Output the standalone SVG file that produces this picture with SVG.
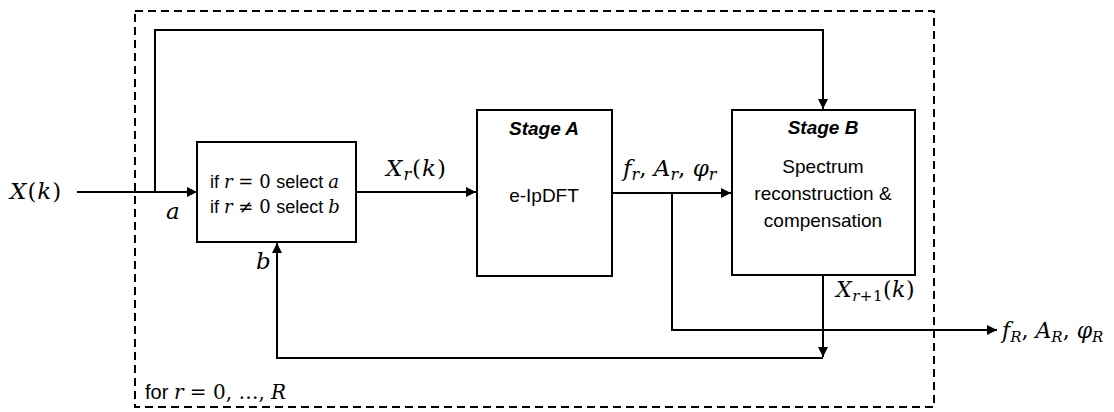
<svg xmlns="http://www.w3.org/2000/svg" width="1114" height="412" viewBox="0 0 1114 412">
<style>
.box{fill:#fff;stroke:#000;stroke-width:2}
.ln{fill:none;stroke:#000;stroke-width:2}
.dash{fill:none;stroke:#000;stroke-width:2;stroke-dasharray:8 5}
.sans{font-family:"Liberation Sans",Arial,sans-serif;fill:#000}
.m{font-family:"DejaVu Serif","Liberation Serif",serif;fill:#000}
.i{font-style:italic}
.bi{font-weight:bold;font-style:italic}
</style>
<defs>
<marker id="ah" viewBox="0 0 10 10" refX="10" refY="5" markerWidth="5" markerHeight="5" orient="auto" markerUnits="strokeWidth">
<path d="M0,0 L10,5 L0,10 z" fill="#000"/>
</marker>
</defs>
<rect class="dash" x="135" y="11" width="799" height="396"/>
<g id="connectors">
<path class="ln" d="M77,192 H197" marker-end="url(#ah)"/>
<path class="ln" d="M155,192 V30 H823 V109" marker-end="url(#ah)"/>
<path class="ln" d="M356,192 H476" marker-end="url(#ah)"/>
<path class="ln" d="M612,193 H731" marker-end="url(#ah)"/>
<path class="ln" d="M672,193 V330 H997" marker-end="url(#ah)"/>
<path class="ln" d="M823,275 V357" marker-end="url(#ah)"/>
<path class="ln" d="M823,358 H277 V243" marker-end="url(#ah)"/>
</g>
<g id="select">
<rect class="box" x="197" y="142" width="159" height="100"/>
<text x="210" y="188" font-size="18"><tspan class="sans">if </tspan><tspan class="m i">r</tspan><tspan class="m"> = 0 </tspan><tspan class="sans">select </tspan><tspan class="m i">a</tspan></text>
<text x="210" y="213" font-size="18"><tspan class="sans">if </tspan><tspan class="m i">r</tspan><tspan class="m"> ≠ 0 </tspan><tspan class="sans">select </tspan><tspan class="m i">b</tspan></text>
</g>
<g id="stageA">
<rect class="box" x="477" y="110" width="135" height="166"/>
<text class="sans bi" x="544" y="135" font-size="19" text-anchor="middle">Stage A</text>
<text class="sans" x="544" y="202" font-size="19" text-anchor="middle">e-IpDFT</text>
</g>
<g id="stageB">
<rect class="box" x="732" y="110" width="183" height="165"/>
<text class="sans bi" x="823" y="134" font-size="19" text-anchor="middle">Stage B</text>
<text class="sans" x="823" y="173" font-size="19" text-anchor="middle">Spectrum</text>
<text class="sans" x="823" y="200" font-size="19" text-anchor="middle">reconstruction &amp;</text>
<text class="sans" x="823" y="227" font-size="19" text-anchor="middle">compensation</text>
</g>
<g id="labels">
<text class="m" x="10" y="199" font-size="23" letter-spacing="1"><tspan class="i">X</tspan>(<tspan class="i">k</tspan>)</text>
<text class="m i" x="166" y="219" font-size="23">a</text>
<text class="m i" x="256" y="269" font-size="23">b</text>
<text class="m" x="386" y="176" font-size="23" letter-spacing="1"><tspan class="i">X</tspan><tspan class="i" font-size="16" dy="4">r</tspan><tspan dy="-4">(</tspan><tspan class="i">k</tspan>)</text>
<text class="m" x="623" y="176" font-size="23"><tspan class="i">f</tspan><tspan class="i" font-size="16" dy="4">r</tspan><tspan dy="-4">, </tspan><tspan class="i">A</tspan><tspan class="i" font-size="16" dy="4">r</tspan><tspan dy="-4">, </tspan><tspan class="i">φ</tspan><tspan class="i" font-size="16" dy="4">r</tspan></text>
<text class="m" x="836" y="297" font-size="22" letter-spacing="0.5"><tspan class="i">X</tspan><tspan font-size="15" dy="4"><tspan class="i">r</tspan>+1</tspan><tspan dy="-4">(</tspan><tspan class="i">k</tspan>)</text>
<text class="m" x="1002" y="338" font-size="22"><tspan class="i">f</tspan><tspan class="i" font-size="15" dy="4">R</tspan><tspan dy="-4">, </tspan><tspan class="i">A</tspan><tspan class="i" font-size="15" dy="4">R</tspan><tspan dy="-4">, </tspan><tspan class="i">φ</tspan><tspan class="i" font-size="15" dy="4">R</tspan></text>
<text x="145" y="399" font-size="20"><tspan class="sans">for </tspan><tspan class="m i">r</tspan><tspan class="m"> = 0, …, </tspan><tspan class="m i">R</tspan></text>
</g>
</svg>
